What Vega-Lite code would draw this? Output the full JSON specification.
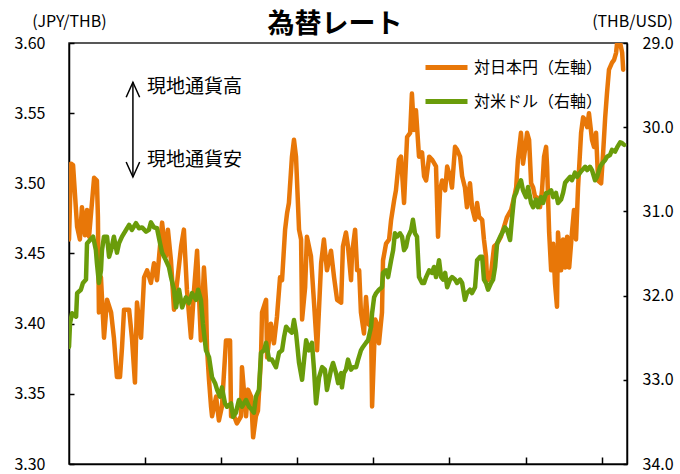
{
  "$schema": "https://vega.github.io/schema/vega-lite/v6.json",
  "width": 558,
  "height": 421,
  "autosize": {"type": "none"},
  "padding": {"left": 69, "top": 43, "right": 53, "bottom": 10},
  "background": "white",
  "title": {"text": "為替レート", "fontSize": 27, "fontWeight": "bold", "font": "Noto Sans CJK JP", "color": "black", "anchor": "middle", "frame": "group", "dx": -13, "offset": -26},
  "config": {
    "font": "Noto Sans CJK JP",
    "view": {"stroke": "#222222", "strokeWidth": 1.5},
    "axis": {"grid": false, "domainColor": "black", "domainWidth": 1.5, "tickColor": "black", "tickWidth": 1.5, "labelColor": "black", "labelFontSize": 16, "labelFont": "Noto Sans CJK JP", "titleColor": "black", "titleFontSize": 16, "titleFontWeight": "normal", "titleFont": "Noto Sans CJK JP"}
  },
  "datasets": {
    "jpy": [
      {"t":0,"v":3.460},{"t":0.8,"v":3.514},{"t":1.6,"v":3.513},{"t":3.2,"v":3.469},{"t":4.3,"v":3.460},{"t":5.1,"v":3.483},{"t":6.3,"v":3.463},{"t":7.1,"v":3.481},{"t":7.9,"v":3.462},{"t":9.9,"v":3.504},
      {"t":11.0,"v":3.502},{"t":11.4,"v":3.476},{"t":11.8,"v":3.408},{"t":12.6,"v":3.433},{"t":13.8,"v":3.390},{"t":15.0,"v":3.417},{"t":16.6,"v":3.408},{"t":17.7,"v":3.390},{"t":18.9,"v":3.362},{"t":20.1,"v":3.362},
      {"t":20.9,"v":3.383},{"t":21.7,"v":3.410},{"t":23.7,"v":3.410},{"t":24.8,"v":3.390},{"t":26.0,"v":3.358},{"t":26.8,"v":3.415},{"t":28.4,"v":3.390},{"t":29.6,"v":3.433},{"t":30.8,"v":3.438},{"t":32.3,"v":3.429},
      {"t":33.5,"v":3.443},{"t":34.7,"v":3.431},{"t":36.7,"v":3.472},{"t":38.2,"v":3.448},{"t":39.0,"v":3.467},{"t":40.2,"v":3.445},{"t":41.4,"v":3.410},{"t":42.6,"v":3.429},{"t":44.2,"v":3.455},{"t":45.3,"v":3.467},
      {"t":46.5,"v":3.424},{"t":48.1,"v":3.390},{"t":49.3,"v":3.424},{"t":50.5,"v":3.452},{"t":52.0,"v":3.388},{"t":53.2,"v":3.440},{"t":54.0,"v":3.417},{"t":54.4,"v":3.383},{"t":55.2,"v":3.360},{"t":56.0,"v":3.341},
      {"t":56.4,"v":3.334},{"t":58.0,"v":3.348},{"t":59.1,"v":3.331},{"t":60.3,"v":3.341},{"t":61.9,"v":3.388},{"t":63.5,"v":3.388},{"t":63.9,"v":3.334},{"t":65.1,"v":3.334},{"t":66.2,"v":3.329},{"t":67.8,"v":3.334},
      {"t":68.2,"v":3.369},{"t":69.8,"v":3.334},{"t":70.6,"v":3.353},{"t":71.8,"v":3.348},{"t":72.6,"v":3.319},{"t":73.7,"v":3.334},{"t":74.5,"v":3.338},{"t":75.7,"v":3.376},{"t":76.1,"v":3.408},{"t":77.7,"v":3.417},
      {"t":78.1,"v":3.376},{"t":79.6,"v":3.400},{"t":80.8,"v":3.386},{"t":82.0,"v":3.405},{"t":83.2,"v":3.433},{"t":84.0,"v":3.431},{"t":85.2,"v":3.467},{"t":86.0,"v":3.479},{"t":86.7,"v":3.486},{"t":87.9,"v":3.519},
      {"t":88.7,"v":3.531},{"t":89.5,"v":3.519},{"t":90.7,"v":3.467},{"t":91.5,"v":3.460},{"t":91.9,"v":3.403},{"t":93.1,"v":3.426},{"t":93.8,"v":3.462},{"t":95.4,"v":3.448},{"t":96.6,"v":3.415},{"t":97.8,"v":3.381},
      {"t":99.4,"v":3.443},{"t":100.5,"v":3.460},{"t":101.7,"v":3.438},{"t":103.3,"v":3.452},{"t":104.5,"v":3.433},{"t":105.7,"v":3.417},{"t":107.3,"v":3.415},{"t":108.0,"v":3.455},{"t":109.2,"v":3.465},{"t":110.0,"v":3.455},
      {"t":111.2,"v":3.431},{"t":111.6,"v":3.450},{"t":112.8,"v":3.467},{"t":113.6,"v":3.438},{"t":114.4,"v":3.438},{"t":115.1,"v":3.408},{"t":116.3,"v":3.393},{"t":117.1,"v":3.419},{"t":117.9,"v":3.400},{"t":119.1,"v":3.398},
      {"t":119.5,"v":3.341},{"t":120.7,"v":3.403},{"t":121.4,"v":3.400},{"t":122.2,"v":3.386},{"t":123.4,"v":3.408},{"t":123.8,"v":3.445},{"t":125.0,"v":3.457},{"t":126.2,"v":3.460},{"t":127.0,"v":3.474},{"t":128.2,"v":3.488},
      {"t":128.9,"v":3.495},{"t":130.1,"v":3.517},{"t":130.9,"v":3.519},{"t":132.1,"v":3.486},{"t":133.3,"v":3.533},{"t":134.5,"v":3.536},{"t":135.2,"v":3.564},{"t":136.0,"v":3.538},{"t":136.8,"v":3.552},{"t":138.0,"v":3.519},
      {"t":139.2,"v":3.522},{"t":140.0,"v":3.505},{"t":140.8,"v":3.502},{"t":142.0,"v":3.519},{"t":143.1,"v":3.517},{"t":144.7,"v":3.512},{"t":145.5,"v":3.462},{"t":146.3,"v":3.495},{"t":147.1,"v":3.502},{"t":148.3,"v":3.495},
      {"t":149.1,"v":3.512},{"t":150.2,"v":3.505},{"t":151.0,"v":3.497},{"t":152.2,"v":3.526},{"t":153.0,"v":3.524},{"t":154.2,"v":3.519},{"t":155.0,"v":3.505},{"t":156.1,"v":3.497},{"t":156.9,"v":3.483},{"t":158.1,"v":3.500},
      {"t":158.9,"v":3.483},{"t":160.1,"v":3.474},{"t":160.9,"v":3.486},{"t":161.7,"v":3.476},{"t":162.9,"v":3.474},{"t":163.6,"v":3.460},{"t":164.4,"v":3.448},{"t":164.8,"v":3.433},{"t":165.2,"v":3.431},{"t":166.4,"v":3.436},
      {"t":167.6,"v":3.455},{"t":168.8,"v":3.457},{"t":170.3,"v":3.462},{"t":171.5,"v":3.469},{"t":172.7,"v":3.476},{"t":174.3,"v":3.481},{"t":175.5,"v":3.490},{"t":176.3,"v":3.497},{"t":177.0,"v":3.517},{"t":178.2,"v":3.536},
      {"t":179.0,"v":3.514},{"t":179.8,"v":3.524},{"t":180.6,"v":3.536},{"t":181.4,"v":3.531},{"t":182.2,"v":3.500},{"t":183.0,"v":3.497},{"t":183.8,"v":3.490},{"t":184.5,"v":3.490},{"t":185.7,"v":3.483},{"t":186.5,"v":3.495},
      {"t":187.3,"v":3.519},{"t":188.1,"v":3.526},{"t":188.5,"v":3.512},{"t":189.3,"v":3.465},{"t":190.1,"v":3.438},{"t":190.9,"v":3.457},{"t":191.6,"v":3.429},{"t":192.4,"v":3.412},{"t":192.8,"v":3.465},{"t":194.0,"v":3.438},
      {"t":194.8,"v":3.460},{"t":195.6,"v":3.440},{"t":196.4,"v":3.462},{"t":197.2,"v":3.440},{"t":198.3,"v":3.465},{"t":199.1,"v":3.481},{"t":199.9,"v":3.460},{"t":200.7,"v":3.497},{"t":201.9,"v":3.536},{"t":202.7,"v":3.547},
      {"t":203.5,"v":3.545},{"t":204.3,"v":3.540},{"t":205.0,"v":3.550},{"t":206.2,"v":3.531},{"t":207.0,"v":3.526},{"t":207.8,"v":3.536},{"t":208.6,"v":3.502},{"t":209.8,"v":3.500},{"t":210.6,"v":3.522},{"t":211.4,"v":3.547},
      {"t":212.1,"v":3.564},{"t":212.9,"v":3.581},{"t":214.1,"v":3.586},{"t":214.9,"v":3.588},{"t":215.7,"v":3.593},{"t":216.1,"v":3.600},{"t":217.3,"v":3.600},{"t":218.1,"v":3.593},{"t":218.5,"v":3.581}
    ],
    "usd": [
      {"t":0,"g":32.61},{"t":0.4,"g":32.33},{"t":1.2,"g":32.21},{"t":2.8,"g":32.25},{"t":3.2,"g":31.97},{"t":4.7,"g":31.93},{"t":5.5,"g":31.85},{"t":6.7,"g":31.81},{"t":7.1,"g":31.38},{"t":8.3,"g":31.34},
      {"t":9.5,"g":31.30},{"t":10.6,"g":31.46},{"t":11.0,"g":31.61},{"t":11.8,"g":31.85},{"t":12.6,"g":31.70},{"t":13.0,"g":31.46},{"t":13.8,"g":31.30},{"t":15.0,"g":31.30},{"t":15.8,"g":31.54},{"t":16.6,"g":31.46},
      {"t":17.7,"g":31.30},{"t":18.9,"g":31.49},{"t":19.7,"g":31.38},{"t":20.9,"g":31.30},{"t":22.5,"g":31.22},{"t":23.7,"g":31.16},{"t":24.8,"g":31.22},{"t":26.4,"g":31.14},{"t":27.6,"g":31.20},{"t":28.8,"g":31.19},
      {"t":30.4,"g":31.24},{"t":31.5,"g":31.22},{"t":32.3,"g":31.13},{"t":33.5,"g":31.19},{"t":34.7,"g":31.20},{"t":35.9,"g":31.38},{"t":36.7,"g":31.49},{"t":38.2,"g":31.58},{"t":39.4,"g":31.66},{"t":40.2,"g":31.78},
      {"t":41.4,"g":31.93},{"t":42.2,"g":32.14},{"t":43.4,"g":31.93},{"t":44.6,"g":32.14},{"t":46.1,"g":32.02},{"t":47.3,"g":32.09},{"t":48.5,"g":31.97},{"t":50.1,"g":32.05},{"t":50.9,"g":31.93},{"t":52.0,"g":32.05},
      {"t":52.8,"g":32.33},{"t":54.0,"g":32.65},{"t":55.2,"g":32.73},{"t":56.4,"g":32.97},{"t":57.6,"g":33.04},{"t":58.4,"g":33.12},{"t":59.5,"g":33.20},{"t":60.3,"g":33.09},{"t":61.5,"g":33.28},{"t":62.3,"g":33.32},
      {"t":63.9,"g":33.28},{"t":64.7,"g":33.44},{"t":65.8,"g":33.39},{"t":67.0,"g":33.24},{"t":68.2,"g":33.32},{"t":69.8,"g":33.24},{"t":71.0,"g":33.32},{"t":72.2,"g":33.36},{"t":72.9,"g":33.39},{"t":73.7,"g":33.20},
      {"t":74.9,"g":33.12},{"t":75.7,"g":32.68},{"t":76.9,"g":32.65},{"t":77.7,"g":32.56},{"t":78.9,"g":32.76},{"t":80.0,"g":32.76},{"t":81.6,"g":32.85},{"t":82.8,"g":32.68},{"t":84.0,"g":32.65},{"t":84.8,"g":32.49},
      {"t":85.6,"g":32.37},{"t":86.7,"g":32.41},{"t":87.9,"g":32.44},{"t":88.7,"g":32.29},{"t":89.5,"g":32.44},{"t":90.7,"g":32.80},{"t":91.9,"g":33.00},{"t":92.7,"g":32.76},{"t":93.5,"g":32.53},{"t":94.6,"g":32.65},
      {"t":95.8,"g":32.56},{"t":96.6,"g":32.88},{"t":97.4,"g":33.28},{"t":98.6,"g":32.97},{"t":99.8,"g":32.85},{"t":100.9,"g":32.88},{"t":101.7,"g":33.12},{"t":103.3,"g":32.88},{"t":104.1,"g":32.80},{"t":105.3,"g":32.92},
      {"t":106.1,"g":33.04},{"t":107.3,"g":32.92},{"t":107.6,"g":33.09},{"t":108.4,"g":32.92},{"t":109.2,"g":32.88},{"t":110.0,"g":32.76},{"t":111.2,"g":32.88},{"t":112.0,"g":32.85},{"t":113.2,"g":32.85},{"t":114.0,"g":32.76},
      {"t":115.1,"g":32.65},{"t":115.9,"g":32.61},{"t":117.1,"g":32.56},{"t":117.9,"g":32.53},{"t":119.1,"g":32.37},{"t":119.5,"g":32.21},{"t":120.3,"g":32.02},{"t":121.1,"g":31.97},{"t":122.2,"g":31.93},{"t":123.4,"g":31.90},
      {"t":123.8,"g":31.73},{"t":125.0,"g":31.70},{"t":125.8,"g":31.78},{"t":127.0,"g":31.58},{"t":127.8,"g":31.46},{"t":128.5,"g":31.26},{"t":129.3,"g":31.30},{"t":130.5,"g":31.26},{"t":131.3,"g":31.30},{"t":132.1,"g":31.46},
      {"t":132.9,"g":31.42},{"t":133.7,"g":31.30},{"t":134.9,"g":31.22},{"t":135.6,"g":31.10},{"t":136.4,"g":31.26},{"t":137.2,"g":31.30},{"t":138.0,"g":31.78},{"t":139.2,"g":31.85},{"t":140.0,"g":31.85},{"t":140.8,"g":31.78},
      {"t":142.0,"g":31.70},{"t":143.1,"g":31.73},{"t":143.9,"g":31.66},{"t":144.7,"g":31.78},{"t":145.9,"g":31.58},{"t":146.7,"g":31.78},{"t":147.5,"g":31.81},{"t":148.3,"g":31.73},{"t":149.1,"g":31.90},{"t":150.2,"g":31.81},
      {"t":151.0,"g":31.78},{"t":152.2,"g":31.81},{"t":153.0,"g":31.85},{"t":154.2,"g":31.81},{"t":155.0,"g":31.85},{"t":156.1,"g":32.05},{"t":156.9,"g":31.97},{"t":158.1,"g":31.93},{"t":158.9,"g":31.97},{"t":160.1,"g":31.90},
      {"t":160.9,"g":31.58},{"t":162.1,"g":31.54},{"t":162.9,"g":31.54},{"t":163.6,"g":31.81},{"t":164.4,"g":31.85},{"t":165.2,"g":31.93},{"t":166.4,"g":31.85},{"t":167.2,"g":31.81},{"t":168.0,"g":31.66},{"t":168.8,"g":31.38},
      {"t":170.0,"g":31.30},{"t":170.7,"g":31.26},{"t":171.9,"g":31.19},{"t":172.7,"g":31.22},{"t":173.9,"g":31.34},{"t":174.7,"g":31.07},{"t":175.5,"g":30.83},{"t":176.3,"g":30.78},{"t":177.0,"g":30.71},{"t":178.2,"g":30.63},
      {"t":179.0,"g":30.75},{"t":180.2,"g":30.83},{"t":181.0,"g":30.71},{"t":182.2,"g":30.90},{"t":183.0,"g":30.95},{"t":184.1,"g":30.86},{"t":184.9,"g":30.95},{"t":186.1,"g":30.83},{"t":186.9,"g":30.90},{"t":188.1,"g":30.78},
      {"t":188.9,"g":30.78},{"t":190.1,"g":30.75},{"t":190.9,"g":30.83},{"t":192.0,"g":30.78},{"t":192.8,"g":30.90},{"t":194.0,"g":30.86},{"t":194.8,"g":30.78},{"t":195.6,"g":30.66},{"t":196.4,"g":30.63},{"t":197.6,"g":30.59},
      {"t":198.3,"g":30.63},{"t":199.5,"g":30.54},{"t":200.3,"g":30.59},{"t":201.5,"g":30.54},{"t":202.3,"g":30.51},{"t":203.5,"g":30.47},{"t":204.3,"g":30.51},{"t":205.4,"g":30.47},{"t":206.2,"g":30.51},{"t":207.4,"g":30.63},
      {"t":208.2,"g":30.59},{"t":209.4,"g":30.47},{"t":210.2,"g":30.43},{"t":211.4,"g":30.39},{"t":212.1,"g":30.35},{"t":213.3,"g":30.33},{"t":214.1,"g":30.27},{"t":215.3,"g":30.29},{"t":216.1,"g":30.24},{"t":217.3,"g":30.18},
      {"t":218.1,"g":30.19},{"t":218.9,"g":30.21}
    ],
    "notes": [
      {"kind": "shaft", "t": 25.2, "v": 3.572, "v2": 3.5045},
      {"kind": "up", "t": 25.2, "v": 3.572},
      {"kind": "down", "t": 25.2, "v": 3.5045},
      {"kind": "label", "t": 30.8, "v": 3.5686, "label": "現地通貨高"},
      {"kind": "label", "t": 30.8, "v": 3.5166, "label": "現地通貨安"}
    ]
  },
  "encoding": {
    "x": {"field": "t", "type": "quantitative", "scale": {"domain": [0, 220], "nice": false, "zero": false},
          "axis": {"values": [30, 60, 90, 120, 150, 180, 210], "labels": false, "tickSize": -7, "title": null, "domain": true}}
  },
  "layer": [
    {
      "encoding": {
        "y": {"field": "v", "type": "quantitative", "scale": {"domain": [3.30, 3.60], "nice": false, "zero": false},
              "axis": {"orient": "left", "values": [3.30, 3.35, 3.40, 3.45, 3.50, 3.55, 3.60], "format": ".2f", "tickSize": -5, "labelPadding": 29,
                       "title": "(JPY/THB)", "titleAngle": 0, "titleAlign": "center", "titleBaseline": "middle", "titleX": 0, "titleY": -22}}
      },
      "layer": [
        {
          "data": {"name": "jpy"},
          "mark": {"type": "line", "strokeWidth": 4.5, "strokeJoin": "round", "strokeCap": "round", "clip": true},
          "encoding": {
            "color": {"datum": "対日本円（左軸）", "type": "nominal",
                      "scale": {"domain": ["対日本円（左軸）", "対米ドル（右軸）"], "range": ["#E87708", "#6A9C0A"]},
                      "legend": {"orient": "none", "legendX": 354, "legendY": 1, "title": null, "symbolType": "stroke", "symbolSize": 1764, "symbolStrokeWidth": 5,
                                 "labelFontSize": 16, "labelFont": "Noto Sans CJK JP", "labelColor": "black", "labelOffset": 4, "rowPadding": -13, "padding": 0}}
          }
        },
        {
          "data": {"name": "notes"},
          "transform": [{"filter": "datum.kind === 'shaft'"}],
          "mark": {"type": "rule", "color": "black", "strokeWidth": 1.5},
          "encoding": {"y2": {"field": "v2"}}
        },
        {
          "data": {"name": "notes"},
          "transform": [{"filter": "datum.kind === 'up'"}],
          "mark": {"type": "point", "shape": "M-0.45,1L0,0L0.45,1", "size": 900, "filled": false, "color": "black", "strokeWidth": 1.5, "opacity": 1}
        },
        {
          "data": {"name": "notes"},
          "transform": [{"filter": "datum.kind === 'down'"}],
          "mark": {"type": "point", "shape": "M-0.45,-1L0,0L0.45,-1", "size": 900, "filled": false, "color": "black", "strokeWidth": 1.5, "opacity": 1}
        },
        {
          "data": {"name": "notes"},
          "transform": [{"filter": "datum.kind === 'label'"}],
          "mark": {"type": "text", "align": "left", "baseline": "middle", "fontSize": 19, "font": "Noto Sans CJK JP", "color": "black"},
          "encoding": {"text": {"field": "label"}}
        }
      ]
    },
    {
      "data": {"name": "usd"},
      "mark": {"type": "line", "strokeWidth": 4.5, "strokeJoin": "round", "strokeCap": "round", "clip": true},
      "encoding": {
        "y": {"field": "g", "type": "quantitative", "scale": {"domain": [29, 34], "reverse": true, "nice": false, "zero": false},
              "axis": {"orient": "right", "values": [29, 30, 31, 32, 33, 34], "format": ".1f", "tickSize": -4, "labelPadding": 19,
                       "title": "(THB/USD)", "titleAngle": 0, "titleAlign": "center", "titleBaseline": "middle", "titleX": 5, "titleY": -22}},
        "color": {"datum": "対米ドル（右軸）", "type": "nominal"}
      }
    }
  ],
  "resolve": {"scale": {"y": "independent"}}
}
